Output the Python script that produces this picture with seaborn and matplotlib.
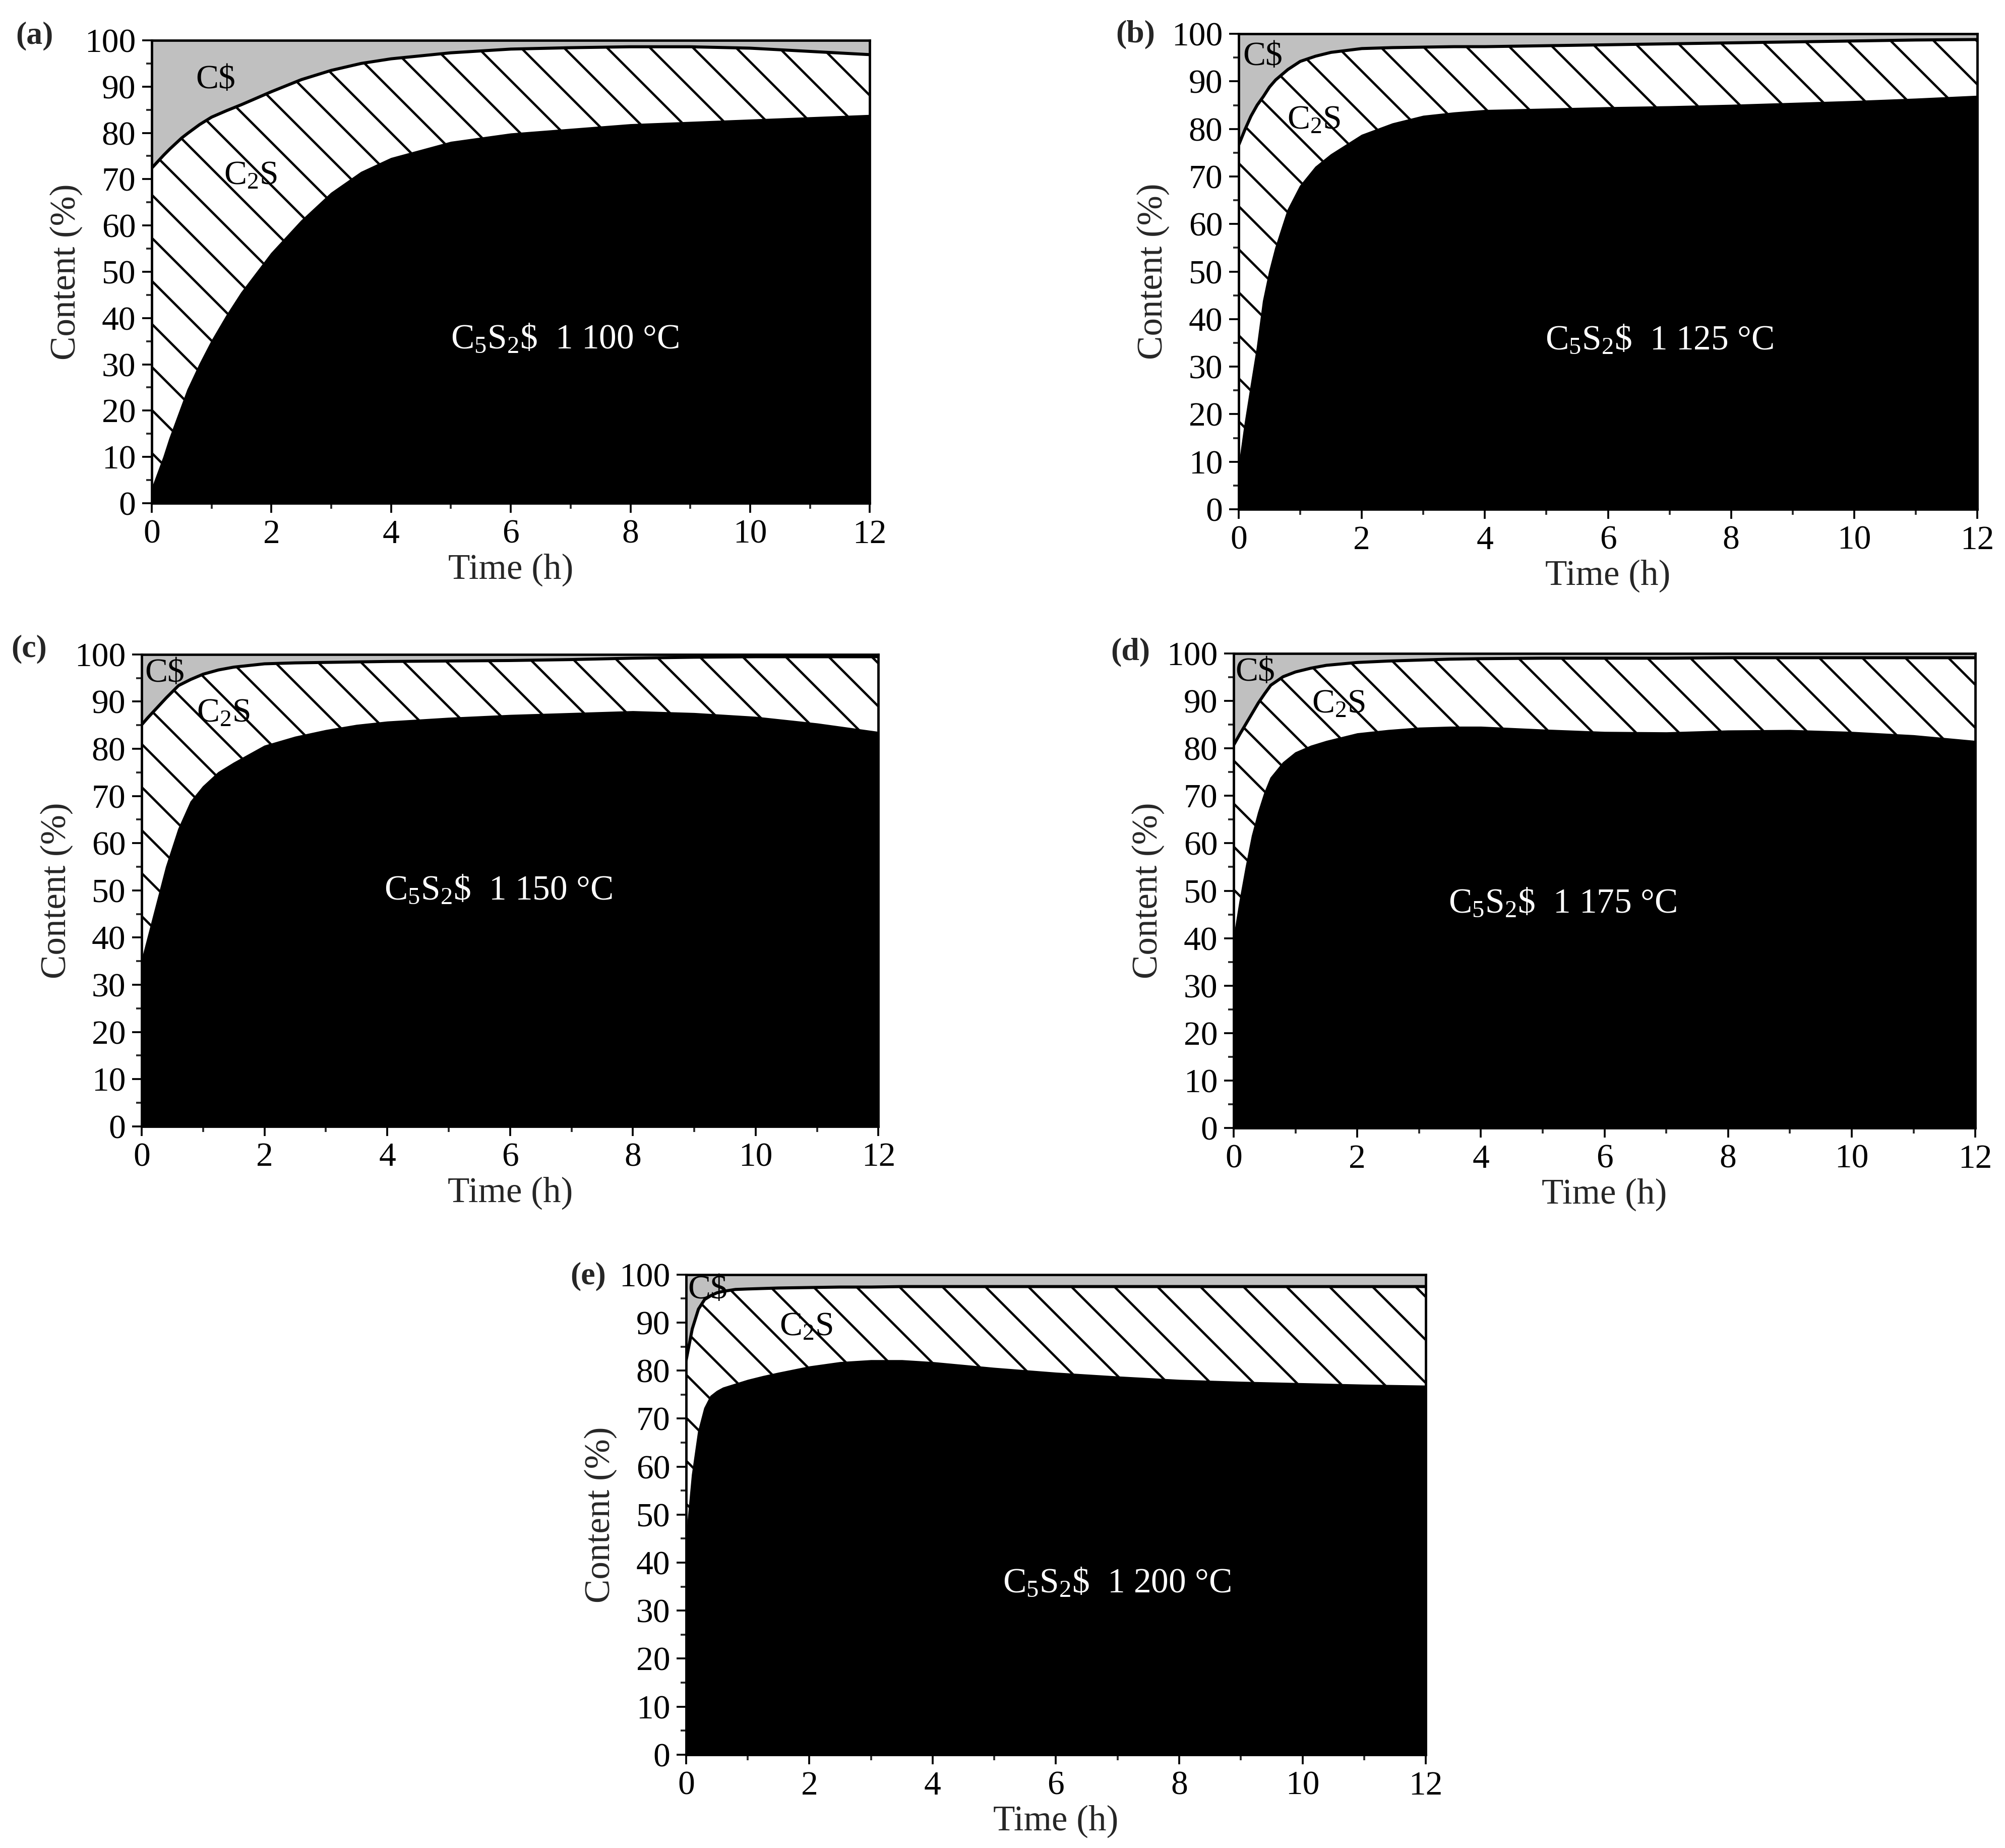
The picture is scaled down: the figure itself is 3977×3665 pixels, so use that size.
import numpy as np
import matplotlib
matplotlib.use("Agg")
import matplotlib.pyplot as plt
from matplotlib.ticker import MultipleLocator
import seaborn as sns

# sampling times (h), shared by all five panels
TIME = [0, 0.1, 0.2, 0.3, 0.4, 0.5, 0.6, 0.8, 1.0, 1.25, 1.5, 2, 2.5, 3, 3.5,
        4, 5, 6, 7, 8, 9, 10, 11, 12]

# C5S2$ content (%) at each temperature
C5S2S_1100 = [3, 6.5, 10, 14, 17.5, 21, 24.5, 30, 35, 40.5, 45.5, 54, 61, 67, 71.5,
              74.5, 78, 79.8, 80.8, 81.8, 82.3, 82.8, 83.3, 83.8]
C5S2S_1125 = [8.5, 17.8, 26, 34, 43.8, 50, 55, 63, 68, 72, 74.6, 78.7, 81.1, 82.7, 83.4,
              83.9, 84.2, 84.5, 84.7, 85, 85.4, 85.8, 86.3, 86.9]
C5S2S_1150 = [35, 40, 45, 50, 55, 59, 63, 68.8, 72, 75, 77, 80.6, 82.5, 83.9, 85,
              85.7, 86.5, 87.1, 87.5, 87.9, 87.5, 86.7, 85.3, 83.5]
C5S2S_1175 = [39.7, 47.8, 55, 61.6, 66.5, 70.6, 73.8, 77, 79.1, 80.5, 81.5, 83.1, 83.8, 84.3, 84.5,
              84.5, 83.9, 83.4, 83.3, 83.7, 83.8, 83.4, 82.7, 81.5]
C5S2S_1200 = [44.3, 58.3, 67.3, 72.2, 74.7, 75.7, 76.4, 77.2, 78, 78.8, 79.5, 80.8, 81.7, 82.1, 82.1,
              81.7, 80.5, 79.5, 78.7, 78, 77.6, 77.3, 77, 76.8]

# C$ content (%) at each temperature
CS_1100 = [27.6, 26.2, 24.8, 23.5, 22.3, 21.1, 20.1, 18.2, 16.6, 15.2, 13.9, 11.1, 8.5, 6.5, 5.0,
           4.0, 2.7, 1.9, 1.6, 1.4, 1.4, 1.7, 2.4, 3.1]
CS_1125 = [23.4, 20.2, 17.3, 15.0, 13.2, 11.2, 9.7, 7.5, 5.8, 4.7, 3.9, 3.1, 2.9, 2.8, 2.7,
           2.7, 2.5, 2.3, 2.1, 1.9, 1.7, 1.5, 1.3, 1.2]
CS_1150 = [14.9, 13.4, 12.0, 10.6, 9.2, 7.9, 6.6, 5.3, 4.2, 3.3, 2.7, 2.0, 1.8, 1.7, 1.6,
           1.5, 1.4, 1.3, 1.1, 0.8, 0.6, 0.5, 0.5, 0.5]
CS_1175 = [19.3, 17.0, 14.8, 12.6, 10.4, 8.5, 6.7, 4.9, 3.9, 3.1, 2.5, 1.9, 1.6, 1.4, 1.2,
           1.1, 1.0, 1.0, 1.0, 0.9, 0.9, 0.9, 0.9, 0.9]
CS_1200 = [17.9, 11.3, 7.2, 5.2, 4.4, 3.8, 3.5, 3.1, 3.0, 2.9, 2.8, 2.7, 2.6, 2.6, 2.5,
           2.5, 2.5, 2.5, 2.5, 2.5, 2.5, 2.5, 2.5, 2.5]

PANELS = ["(a)", "(b)", "(c)", "(d)", "(e)"]
TEMPS = ["1 100", "1 125", "1 150", "1 175", "1 200"]

sns.set_theme(style="ticks")
plt.rcParams["font.family"] = ["Liberation Serif", "DejaVu Serif"]
plt.rcParams["mathtext.fontset"] = "custom"
plt.rcParams["mathtext.rm"] = "Liberation Serif"
plt.rcParams["mathtext.it"] = "Liberation Serif:italic"
plt.rcParams["mathtext.bf"] = "Liberation Serif:bold"
plt.rcParams["mathtext.default"] = "rm"
plt.rcParams["hatch.linewidth"] = 1.3
plt.rcParams["hatch.color"] = "black"

DPI = 256   # hatch spacing follows the dpi
fig = plt.figure(figsize=(3977 / DPI, 3665 / DPI), dpi=DPI)

# axes boxes [left, bottom, width, height] in figure fraction
boxes = [
    [0.0757, 0.7277, 0.3581, 0.2505],
    [0.6178, 0.7244, 0.3684, 0.2573],
    [0.0707, 0.3905, 0.3674, 0.2554],
    [0.6153, 0.3896, 0.3699, 0.2568],
    [0.3422, 0.0505, 0.3689, 0.2598],
]
panel_xy = [(0.0171, 0.9806), (0.5663, 0.9814), (0.0146, 0.6486),
            (0.5637, 0.6472), (0.2934, 0.3094)]
# label anchors (data coords): C$, C2S, main label
label_pos = [
    [(1.07, 91.4), (1.65, 70.7), (6.9, 35.4)],
    [(0.39, 95.2), (1.22, 81.7), (6.83, 35.5)],
    [(0.375, 96.0), (1.33, 87.5), (5.81, 49.9)],
    [(0.35, 96.0), (1.70, 89.2), (5.32, 47.2)],
    [(0.35, 96.8), (1.95, 89.0), (6.99, 35.6)],
]

series = [(C5S2S_1100, CS_1100), (C5S2S_1125, CS_1125), (C5S2S_1150, CS_1150),
          (C5S2S_1175, CS_1175), (C5S2S_1200, CS_1200)]

t = np.array(TIME)
for i, (c5, cs) in enumerate(series):
    ax = fig.add_axes(boxes[i])
    c5 = np.array(c5)
    top = 100 - np.array(cs)          # C5S2$ + C2S
    ax.fill_between(t, top, 100, facecolor="#c0c0c0", edgecolor="none", linewidth=0)
    ax.fill_between(t, c5, top, facecolor="white", edgecolor="black",
                    hatch="\\", linewidth=0)
    ax.fill_between(t, 0, c5, facecolor="black", edgecolor="black", linewidth=0.8)
    sns.lineplot(x=t, y=top, color="black", linewidth=1.7, ax=ax)

    ax.set_xlim(0, 12)
    ax.set_ylim(0, 100)
    ax.xaxis.set_major_locator(MultipleLocator(2))
    ax.xaxis.set_minor_locator(MultipleLocator(1))
    ax.yaxis.set_major_locator(MultipleLocator(10))
    ax.yaxis.set_minor_locator(MultipleLocator(5))
    ax.tick_params(which="major", direction="out", length=5.4, width=1.05,
                   labelsize=19, pad=3.5, colors="black")
    ax.tick_params(which="minor", direction="out", length=3.0, width=1.05)
    for sp in ax.spines.values():
        sp.set_visible(True)
        sp.set_linewidth(1.35)
        sp.set_color("black")
        sp.set_zorder(5)

    ax.set_xlabel("Time (h)", fontsize=20, labelpad=2)
    ax.set_ylabel("Content (%)", fontsize=20, labelpad=1)

    (xa, ya), (xb, yb), (xc, yc) = label_pos[i]
    ax.text(xa, ya, "C\\$", fontsize=19, ha="center", va="center", color="black")
    ax.text(xb, yb, "C$_2$S", fontsize=19, ha="center", va="center", color="black")
    ax.text(xc, yc, "C$_5$S$_2$\\$  " + TEMPS[i] + " °C", fontsize=19.5,
            ha="center", va="center", color="white")

    fig.text(panel_xy[i][0], panel_xy[i][1], PANELS[i], fontsize=18,
             fontweight="bold", ha="center", va="center")

fig.savefig("out.png", dpi=DPI, facecolor="white")
